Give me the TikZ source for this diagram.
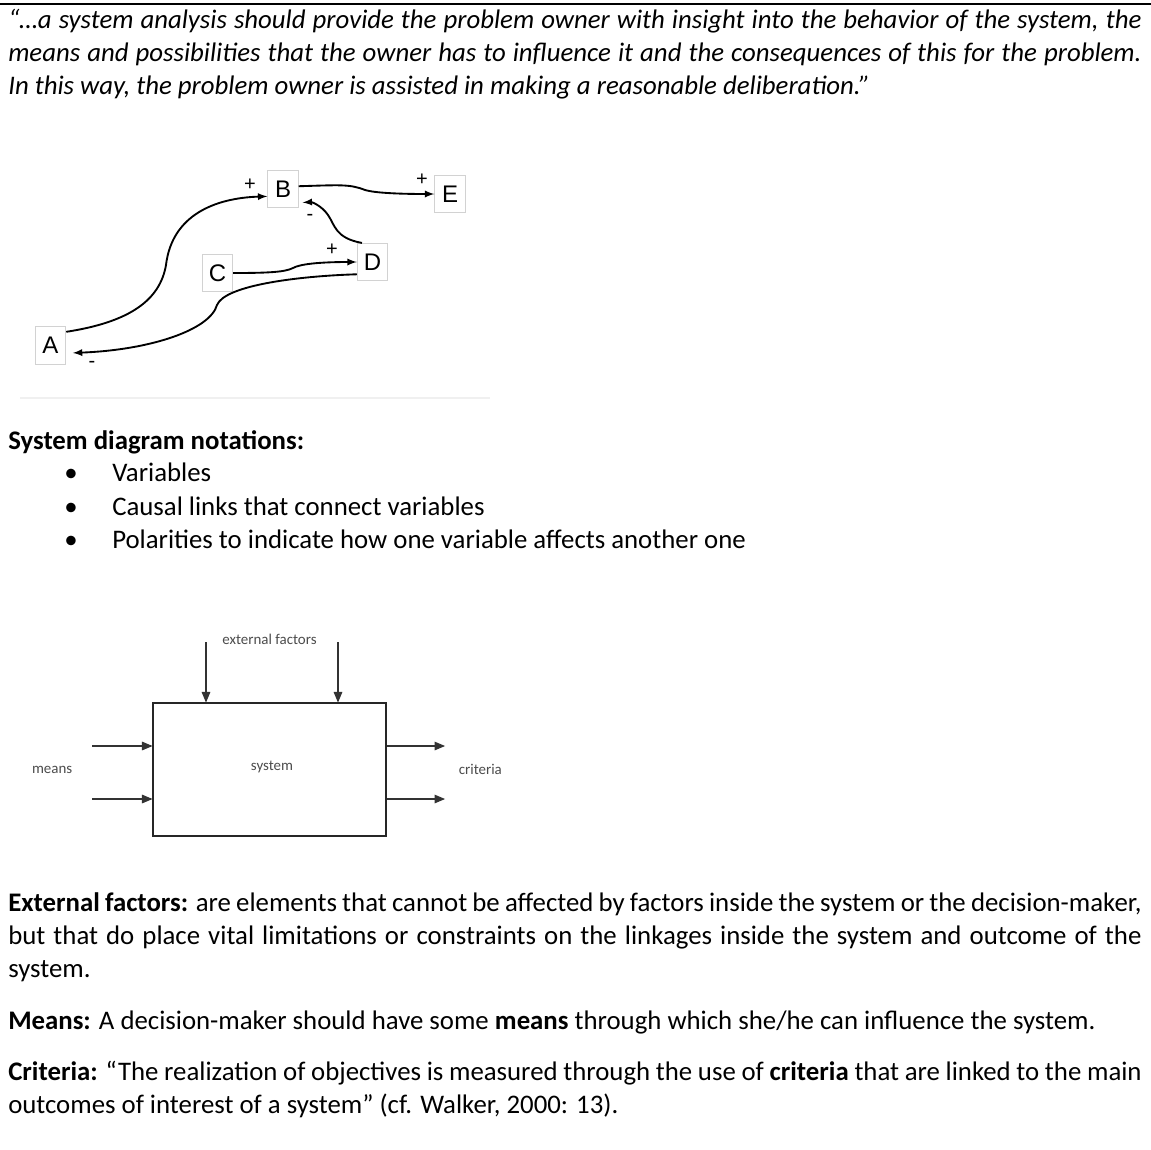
\documentclass[tikz,border=0pt]{standalone}
\usepackage{fontspec}
\setmainfont{Carlito}
\newfontfamily\diagfont{Liberation Sans}
\usetikzlibrary{positioning,arrows}

\begin{document}
\begin{tikzpicture}[
		x=0.75pt,y=-0.75pt,
		node distance=1cm and 1.5cm,
		bodytext/.style={anchor=base west,inner sep=0pt,font=\fontsize{20.1}{24.75}\selectfont},
		para/.style={bodytext,text width=850pt,align=justify},
		var/.style={draw=gray!35,line width=0.6pt,minimum width=23pt,minimum height=28pt,inner sep=0pt,font=\diagfont\fontsize{18}{20}\selectfont},
		link/.style={-latex,line width=1.4pt},
		sign/.style={inner sep=0pt,font=\diagfont\fontsize{15}{16}\selectfont},
		sysbox/.style={draw=black!85,line width=0.8pt,minimum width=174.75pt,minimum height=99.75pt,inner sep=0pt},
		sysarrow/.style={-triangle 45,line width=0.8pt,draw=black!80},
		syslabel/.style={inner sep=0pt,font=\fontsize{11.2}{13}\selectfont,text=black!70}
		]
		\useasboundingbox[fill=white] (0,0) rectangle (1151,1149);
		\draw[line width=1.1pt] (0,4) -- (1151,4);
		
		% quote
		\node[para] (quote) at (8,29) {\itshape “…a system analysis should provide the problem owner with insight into the behavior of the system, the\linebreak
			means and possibilities that the owner has to influence it and the consequences of this for the problem.\linebreak
			In this way, the problem owner is assisted in making a reasonable deliberation.”};
		
		% causal diagram
		\node[var] (A) at (50.5,345.5) {A};
		\node[var] (B) at (283,189) {B};
		\node[var] (C) at (217.5,273) {C};
		\node[var] (D) at (372.5,262) {D};
		\node[var] (E) at (450,194) {E};
		\draw[link] (A.41) .. controls (130,322) and (160,300) .. (166,265)
		.. controls (172,215) and (215,198) .. (B.205);
		\draw[link] (B.10) .. controls (340,185) and (350,184) .. (365,190)
		.. controls (375,193) and (400,194) .. (E.west);
		\draw[link,shorten >=3pt] (D.119) .. controls (335,238) and (335,225) .. (328,215)
		.. controls (322,206) and (312,202) .. (B.-41);
		\draw[link] (C.east) .. controls (270,273) and (285,272) .. (293,268)
		.. controls (300,264) and (320,262) .. (D.west);
		\draw[link,shorten >=5pt] (D.218) .. controls (300,276) and (225,285) .. (217,305)
		.. controls (210,330) and (150,350) .. (A.-26);
		\node[sign] (pAB) at (250,185) {+};
		\node[sign] (pBE) at (422,180) {+};
		\node[sign] (mDB) at (310,217) {-};
		\node[sign] (pCD) at (332,250) {+};
		\node[sign] (mDA) at (92,364) {-};
		\draw[black!6,line width=1pt] (20,398) -- (490,398);
		
		% notations
		\node[bodytext,font=\fontsize{20.1}{24.75}\selectfont\bfseries] (notations) at (8,449) {System diagram notations:};
		\foreach \y/\item in {481/Variables,515/Causal links that connect variables,548/Polarities to indicate how one variable affects another one}
		{
			\node[bodytext] at (64,\y) {\textbullet};
			\node[bodytext] at (112,\y) {\item};
		}
		
		% system diagram
		\node[sysbox] (sys) at (269.5,769.5) {};
		\node[syslabel] (syst) at (272,767) {system};
		\node[syslabel,above=43pt of sys] (ext) {external factors};
		\node[syslabel,left=60pt of sys] (means) {means};
		\node[syslabel,right=54pt of sys] (crit) {criteria};
		\coordinate (ef1) at (206,642);
		\coordinate (ef2) at (338,642);
		\coordinate (m1) at (92,746);
		\coordinate (m2) at (92,799);
		\coordinate (c1) at (445,746);
		\coordinate (c2) at (445,799);
		\draw[sysarrow] (ef1) -- (ef1 |- sys.north);
		\draw[sysarrow] (ef2) -- (ef2 |- sys.north);
		\draw[sysarrow] (m1) -- (m1 -| sys.west);
		\draw[sysarrow] (m2) -- (m2 -| sys.west);
		\draw[sysarrow] (c1 -| sys.east) -- (c1);
		\draw[sysarrow] (c2 -| sys.east) -- (c2);
		
		% explanations
		\node[para] (extdef) at (8,911) {\textbf{External factors:} are elements that cannot be affected by factors inside the system or the decision-maker,\linebreak
			but that do place vital limitations or constraints on the linkages inside the system and outcome of the\linebreak
			system.};
		\node[para] (meansdef) at (8,1029) {\textbf{Means:} A decision-maker should have some \textbf{means} through which she/he can influence the system.};
		\node[para] (critdef) at (8,1080) {\textbf{Criteria:} “The realization of objectives is measured through the use of \textbf{criteria} that are linked to the main\linebreak
			outcomes of interest of a system” (cf. Walker, 2000: 13).};
	\end{tikzpicture}
\end{document}
